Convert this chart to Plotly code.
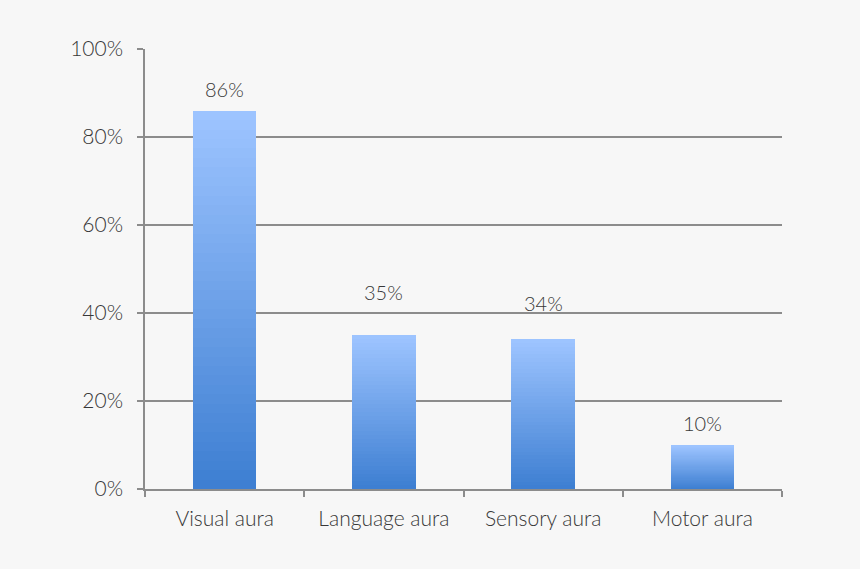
import plotly.graph_objects as go

# Data
categories = ["Visual aura", "Language aura", "Sensory aura", "Motor aura"]
values = [86, 35, 34, 10]
label_text = ["86%", "35%", "34%", "10%"]
y_ticks = [0, 20, 40, 60, 80, 100]
y_tick_text = ["0%", "20%", "40%", "60%", "80%", "100%"]

# pixel lift of each value label above its bar (labels sit unevenly in the source)
label_lift = [9, 30, 23, 9]

# gradient: bottom dark -> top light, built from stacked slices
N_SLICES = 40
TOP_RGB = (157, 196, 255)
BOT_RGB = (62, 127, 210)
TEXT = "#383838"
AXIS = "#8c8c8c"
FONT = "Lato"


def _mix(t):
    r, g, b = (round(BOT_RGB[i] + (TOP_RGB[i] - BOT_RGB[i]) * t) for i in range(3))
    return f"rgb({r},{g},{b})"


fig = go.Figure()

for k in range(N_SLICES):
    fig.add_trace(go.Bar(
        x=categories,
        y=[v / N_SLICES for v in values],
        marker=dict(color=_mix(k / (N_SLICES - 1)), line=dict(width=0)),
        width=0.4,
        hoverinfo="skip",
        showlegend=False,
    ))

for cat, v, txt, lift in zip(categories, values, label_text, label_lift):
    fig.add_annotation(
        x=cat, y=v, text=txt, showarrow=False,
        yanchor="bottom", yshift=lift - 1,
        font=dict(family=FONT, size=20, color=TEXT, weight=300),
    )

fig.update_layout(
    width=860, height=569,
    barmode="stack",
    bargap=0.6,
    paper_bgcolor="#f7f7f7",
    plot_bgcolor="#f7f7f7",
    margin=dict(l=145, r=78, t=49, b=80),
    font=dict(family=FONT, size=21, color=TEXT, weight=300),
)

fig.update_xaxes(
    showgrid=False,
    showline=True, linecolor=AXIS, linewidth=2,
    ticks="outside", tickson="boundaries", ticklen=6,
    tickcolor=AXIS, tickwidth=1.5,
    ticklabelstandoff=10,
    tickfont=dict(family=FONT, size=21, color=TEXT, weight=300),
)

fig.update_yaxes(
    range=[0, 100],
    tickmode="array", tickvals=y_ticks, ticktext=y_tick_text,
    showgrid=True, gridcolor=AXIS, gridwidth=1.5,
    zeroline=False,
    showline=True, linecolor=AXIS, linewidth=1.5,
    ticks="outside", ticklen=6, tickcolor=AXIS, tickwidth=1.5,
    ticklabelstandoff=10,
    tickfont=dict(family=FONT, size=21, color=TEXT, weight=300),
)

# page body has a default margin; drop it so the figure fills the window
fig.write_html(
    "out.html",
    config={"displayModeBar": False},
    post_script="document.body.style.margin='0';",
)
